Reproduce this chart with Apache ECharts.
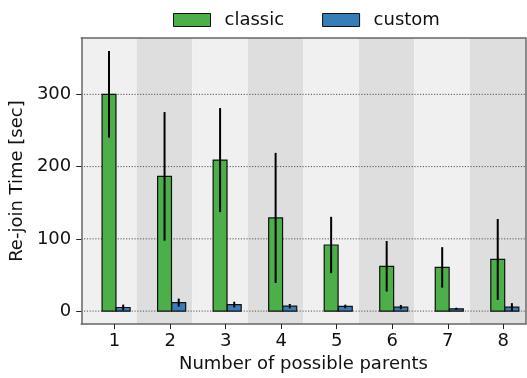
<!DOCTYPE html>
<html>
<head>
<meta charset="utf-8">
<script src="https://cdn.jsdelivr.net/npm/echarts@6/dist/echarts.min.js"></script>
<style>html,body{margin:0;padding:0;background:#fff}#c{width:527px;height:378px}</style>
</head>
<body>
<div id="c"></div>
<script>
// ---- data ----
const categories = ['1', '2', '3', '4', '5', '6', '7', '8'];
const classicMean = [300, 186.5, 209, 129, 91.5, 62, 60.5, 71.5];
const classicErr  = [60, 89, 72, 90, 39, 35, 28, 56];
const customMean  = [5, 11.8, 9, 6.8, 6.4, 5.5, 3.2, 5.5];
const customErr   = [4, 5.5, 4, 3, 2.5, 3, 1.5, 5.5];
const yTicks = [0, 100, 200, 300];
const seriesNames = ['classic', 'custom'];

// ---- styling / layout ----
const FONT = 'DejaVu Sans';
const GREEN = '#4daf4a', BLUE = '#377eb8';
const BAND_LIGHT = '#f0f0f0', BAND_DARK = '#dedede';
const SPINE = '#666666';
const BAR_W = 0.25, BLUE_OFF = 0.255, TICK_OFF = 0.1;
const Y_MIN = -18, Y_MAX = 378;

const chart = echarts.init(document.getElementById('c'), null, {renderer: 'canvas'});

const tickPos = categories.map((c, i) => i + TICK_OFF);

function barRender(offset, color) {
  return function (params, api) {
    const x = api.value(0) + offset;
    const v = api.value(1);
    const p0 = api.coord([x - BAR_W / 2, v]);
    const p1 = api.coord([x + BAR_W / 2, 0]);
    return {
      type: 'rect',
      shape: {x: p0[0], y: p0[1], width: p1[0] - p0[0], height: p1[1] - p0[1]},
      style: {fill: color, stroke: '#111', lineWidth: 1.2}
    };
  };
}
function errRender(offset) {
  return function (params, api) {
    const x = api.value(0) + offset;
    const v = api.value(1), e = api.value(2);
    const a = api.coord([x, v - e]);
    const b = api.coord([x, v + e]);
    return {
      type: 'line',
      shape: {x1: a[0], y1: a[1], x2: b[0], y2: b[1]},
      style: {stroke: '#000', lineWidth: 2}
    };
  };
}

const spineLine = {show: true, onZero: false, lineStyle: {color: SPINE, width: 1.5}};

const option = {
  animation: false,
  textStyle: {fontFamily: FONT},
  grid: {left: 81, right: 1.5, top: 38, bottom: 50.5, containLabel: false},
  legend: {
    top: 6, left: 168,
    itemWidth: 37, itemHeight: 13, itemGap: 38,
    textStyle: {fontFamily: FONT, fontSize: 18, color: '#111', padding: [0, 0, 0, 9]},
    data: [
      {name: seriesNames[0], icon: 'rect', itemStyle: {color: GREEN, borderColor: '#111', borderWidth: 1}},
      {name: seriesNames[1], icon: 'rect', itemStyle: {color: BLUE, borderColor: '#111', borderWidth: 1}}
    ]
  },
  xAxis: [{
    type: 'value', min: -0.5, max: 7.5, z: 10,
    name: 'Number of possible parents', nameLocation: 'middle', nameGap: 29,
    nameTextStyle: {fontFamily: FONT, fontSize: 18, color: '#111'},
    axisLine: spineLine,
    axisTick: {show: true, length: 5, lineStyle: {color: '#222', width: 1}, customValues: tickPos},
    axisLabel: {
      fontFamily: FONT, fontSize: 18, color: '#111', margin: 8,
      customValues: tickPos,
      formatter: v => categories[Math.round(v - TICK_OFF)]
    },
    splitLine: {show: false}
  }, {
    type: 'value', position: 'top', min: -0.5, max: 7.5, z: 10,
    axisLine: spineLine,
    axisTick: {show: false}, axisLabel: {show: false}, splitLine: {show: false}
  }],
  yAxis: [{
    type: 'value', min: Y_MIN, max: Y_MAX, z: 10,
    name: 'Re-join Time [sec]', nameLocation: 'middle', nameGap: 46, nameRotate: 90,
    nameTextStyle: {fontFamily: FONT, fontSize: 18, color: '#111'},
    axisLine: spineLine,
    axisTick: {show: true, length: 5, lineStyle: {color: '#222', width: 1}, customValues: yTicks},
    axisLabel: {fontFamily: FONT, fontSize: 18, color: '#111', margin: 10, customValues: yTicks},
    splitLine: {show: false}
  }, {
    type: 'value', position: 'right', min: Y_MIN, max: Y_MAX, z: 10,
    axisLine: spineLine,
    axisTick: {show: false}, axisLabel: {show: false}, splitLine: {show: false}
  }],
  series: [
    {
      type: 'custom', name: 'bands', z: 0, silent: true,
      data: categories.map((c, i) => [i, 0]),
      renderItem: function (params, api) {
        const i = api.value(0);
        const cs = params.coordSys;
        const a = api.coord([i - 0.5, 0]);
        const b = api.coord([i + 0.5, 0]);
        return {
          type: 'rect',
          shape: {x: a[0], y: cs.y, width: b[0] - a[0], height: cs.height},
          style: {fill: i % 2 === 0 ? BAND_LIGHT : BAND_DARK}
        };
      }
    },
    {
      type: 'custom', name: 'grid', z: 1, silent: true,
      data: yTicks.map(v => [0, v]),
      renderItem: function (params, api) {
        const cs = params.coordSys;
        const y = api.coord([0, api.value(1)])[1];
        return {
          type: 'line',
          shape: {x1: cs.x, y1: y, x2: cs.x + cs.width, y2: y},
          style: {stroke: '#555', lineWidth: 1, lineDash: [1.2, 1.6]}
        };
      }
    },
    {
      type: 'custom', name: seriesNames[0], z: 2,
      itemStyle: {color: GREEN},
      data: categories.map((c, i) => [i, classicMean[i], classicErr[i]]),
      renderItem: barRender(0, GREEN)
    },
    {
      type: 'custom', name: seriesNames[1], z: 2,
      itemStyle: {color: BLUE},
      data: categories.map((c, i) => [i, customMean[i], customErr[i]]),
      renderItem: barRender(BLUE_OFF, BLUE)
    },
    {
      type: 'custom', name: 'classicErr', z: 3, silent: true,
      data: categories.map((c, i) => [i, classicMean[i], classicErr[i]]),
      renderItem: errRender(0)
    },
    {
      type: 'custom', name: 'customErr', z: 3, silent: true,
      data: categories.map((c, i) => [i, customMean[i], customErr[i]]),
      renderItem: errRender(BLUE_OFF)
    }
  ]
};
chart.setOption(option);
</script>
</body>
</html>
